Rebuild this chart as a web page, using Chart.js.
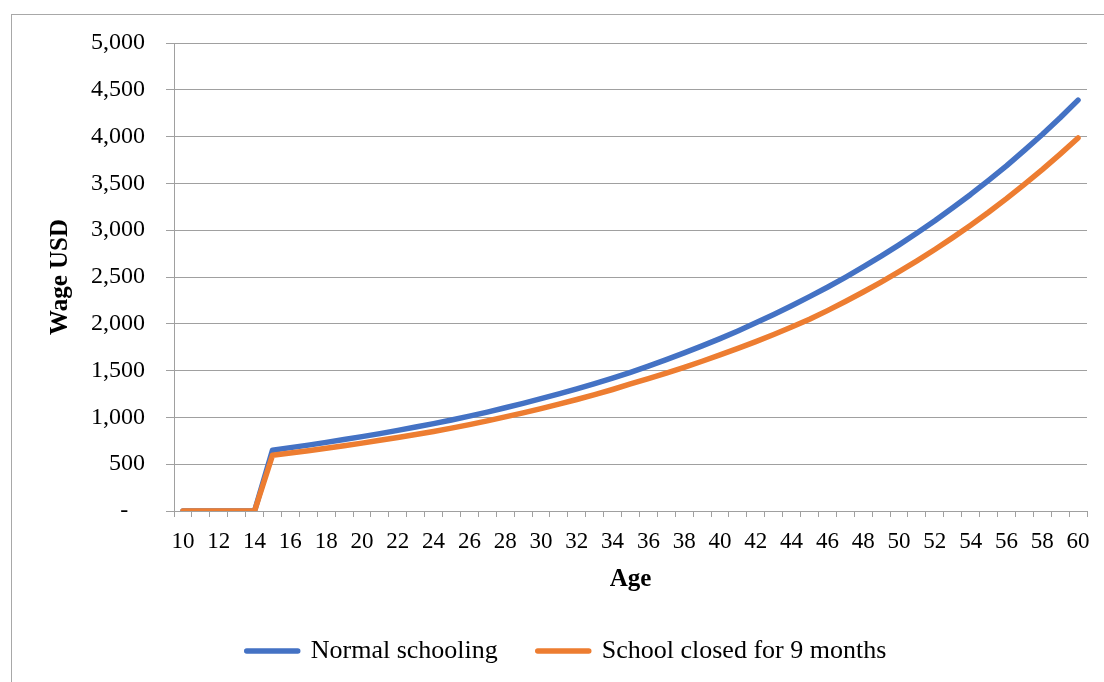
<!DOCTYPE html>
<html>
<head>
<meta charset="utf-8">
<title>Wage by age</title>
<script src="https://cdn.jsdelivr.net/npm/chart.js@4"></script>
<style>
  html, body { margin: 0; padding: 0; background: #fff; }
  canvas { display: block; }
</style>
</head>
<body>
<canvas id="wageChart" width="1104" height="682"></canvas>
<script>
// Age in years (one category per year)
const ages = [
  '10','11','12','13','14','15','16','17','18','19',
  '20','21','22','23','24','25','26','27','28','29',
  '30','31','32','33','34','35','36','37','38','39',
  '40','41','42','43','44','45','46','47','48','49',
  '50','51','52','53','54','55','56','57','58','59','60'
];

// Monthly wage (USD) with a normal school career
const normalSchooling = [
  0, 0, 0, 0, 0,
  650, 677, 704, 733, 763, 795, 827, 861, 897, 933,
  972, 1014, 1057, 1103, 1150, 1200, 1251, 1305, 1362, 1420,
  1482, 1548, 1617, 1689, 1764, 1842, 1924, 2010, 2099, 2192,
  2290, 2391, 2497, 2608, 2723, 2844, 2970, 3101, 3239, 3382,
  3532, 3688, 3852, 4022, 4201, 4390
];

// Monthly wage (USD) after nine months of school closure
const schoolClosed = [
  0, 0, 0, 0, 0,
  595, 619, 644, 670, 697, 725, 755, 785, 817, 850,
  885, 923, 963, 1005, 1048, 1094, 1141, 1191, 1243, 1298,
  1357, 1414, 1473, 1535, 1600, 1667, 1737, 1810, 1886, 1965,
  2048, 2141, 2238, 2340, 2446, 2557, 2673, 2794, 2921, 3054,
  3192, 3337, 3489, 3647, 3813, 3985
];

// Value-axis labels, 0 to 5,000 in steps of 500
const yTickLabels = ['-', '500', '1,000', '1,500', '2,000', '2,500',
                     '3,000', '3,500', '4,000', '4,500', '5,000'];

const seriesNames = ['Normal schooling', 'School closed for 9 months'];
const seriesColors = ['#4472C4', '#ED7D31'];

const gridColor = '#a0a0a0';
const textColor = '#000000';

Chart.defaults.font.family = "'Liberation Serif', 'Times New Roman', serif";
Chart.defaults.color = textColor;

// White page with a thin frame around the chart
const framePlugin = {
  id: 'frame',
  beforeDraw(chart) {
    const ctx = chart.ctx;
    ctx.save();
    ctx.fillStyle = '#ffffff';
    ctx.fillRect(0, 0, chart.width, chart.height);
    ctx.strokeStyle = '#a8a8a8';
    ctx.lineWidth = 1;
    ctx.strokeRect(11.5, 14.5, chart.width + 20, chart.height + 20);
    ctx.restore();
  }
};

new Chart(document.getElementById('wageChart'), {
  type: 'line',
  data: {
    labels: ages,
    datasets: [
      {
        label: seriesNames[0],
        data: normalSchooling,
        borderColor: seriesColors[0],
        backgroundColor: seriesColors[0],
        borderWidth: 5.5,
        pointRadius: 0,
        tension: 0,
        borderCapStyle: 'round',
        borderJoinStyle: 'round',
        order: 1
      },
      {
        label: seriesNames[1],
        data: schoolClosed,
        borderColor: seriesColors[1],
        backgroundColor: seriesColors[1],
        borderWidth: 5.5,
        pointRadius: 0,
        tension: 0,
        borderCapStyle: 'round',
        borderJoinStyle: 'round',
        order: 0
      }
    ]
  },
  options: {
    responsive: false,
    animation: false,
    events: [],
    layout: { padding: { left: 46, right: 17, top: 43, bottom: 8 } },
    plugins: {
      tooltip: { enabled: false },
      legend: {
        position: 'bottom',
        // wide spacing between the two entries; cap the box height so the
        // row sits just below the axis title
        maxHeight: 76,
        labels: {
          usePointStyle: true,
          pointStyleWidth: 51,
          padding: 40,
          color: textColor,
          font: { size: 26 },
          generateLabels: (chart) => chart.data.datasets.map((ds, i) => ({
            text: ds.label,
            fillStyle: ds.borderColor,
            strokeStyle: ds.borderColor,
            lineWidth: 5.5,
            lineCap: 'round',
            pointStyle: 'line',
            hidden: false,
            datasetIndex: i
          }))
        }
      }
    },
    scales: {
      x: {
        type: 'category',
        offset: true,
        grid: {
          offset: true,
          drawOnChartArea: false,
          drawTicks: true,
          tickLength: 6,
          color: gridColor
        },
        border: { display: true, color: gridColor, width: 1 },
        ticks: {
          autoSkip: false,
          maxRotation: 0,
          minRotation: 0,
          padding: 11,
          color: textColor,
          font: { size: 23 },
          callback: (value, index) => (index % 2 === 0 ? ages[index] : '')
        },
        title: {
          display: true,
          text: 'Age',
          color: textColor,
          font: { size: 25, weight: 'bold' },
          padding: { top: 0, bottom: 3 }
        },
        afterFit: (scale) => { scale.height = 87; }
      },
      y: {
        min: 0,
        max: 5000,
        grid: {
          color: gridColor,
          lineWidth: 1,
          drawTicks: true,
          tickLength: 8
        },
        border: { display: true, color: gridColor, width: 1 },
        ticks: {
          stepSize: 500,
          padding: 21,
          color: textColor,
          font: { size: 24 },
          callback: (value, index) => (index === 0 ? yTickLabels[0] + '\u2002\u2009' : yTickLabels[index])
        },
        title: {
          display: true,
          text: 'Wage USD',
          color: textColor,
          font: { size: 25, weight: 'bold' },
          padding: { top: 0, bottom: 0 }
        },
        afterFit: (scale) => { scale.width = 128; }
      }
    }
  },
  plugins: [framePlugin]
});
</script>
</body>
</html>
